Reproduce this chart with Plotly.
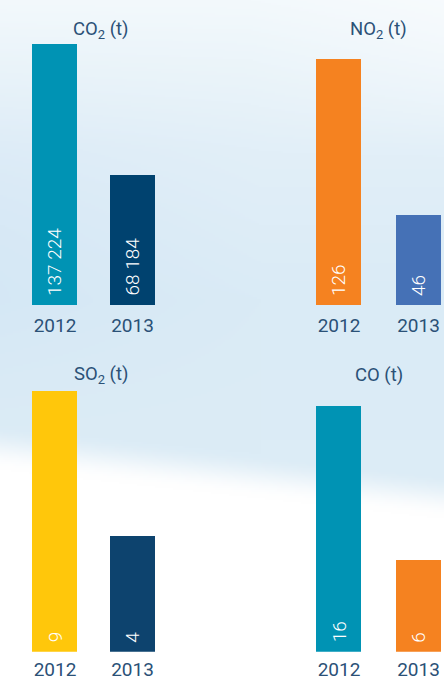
import base64
import struct
import zlib

import numpy as np
import plotly.graph_objects as go

# ---------------- data ----------------
years = ["2012", "2013"]
titles = ["CO<sub>2</sub> (t)", "NO<sub>2</sub> (t)", "SO<sub>2</sub> (t)", "CO (t)"]
co2_values = [137224, 68184]
no2_values = [126, 46]
so2_values = [9, 4]
co_values = [16, 6]
co2_colors = ["#0093b4", "#00426f"]
no2_colors = ["#f58220", "#4571b6"]
so2_colors = ["#ffc70b", "#0d436e"]
co_colors = ["#0093b4", "#f58220"]

W, H = 444, 681


# ---------------- sky background image ----------------
def make_background():
    h, w = 341, 222
    ys = np.linspace(0, H, h)[:, None]
    xs = np.linspace(0, W, w)[None, :]
    stops_y = [0, 60, 150, 300, 440]
    stops_c = np.array([[243, 249, 252], [236, 245, 250], [226, 239, 248],
                        [218, 235, 246], [220, 236, 246]], dtype=float)
    base = np.zeros((h, w, 3))
    for k in range(3):
        base[..., k] = np.interp(ys, stops_y, stops_c[:, k]) * np.ones_like(xs)
    left = np.clip(1 - xs / 260, 0, 1) * np.exp(-((ys - 230) / 140) ** 2)
    base -= left[..., None] * np.array([6, 4, 1])
    tr = np.clip((xs - 250) / 194, 0, 1) * np.clip(1 - ys / 160, 0, 1)
    base += tr[..., None] * (np.array([250, 252, 254]) - base) * 0.6
    yc = 447 + 0.11 * xs
    t = np.clip((ys - yc) / 45 + 0.5, 0, 1)
    t = t * t * (3 - 2 * t)
    white = np.array([255, 255, 255], dtype=float)
    img = base * (1 - t[..., None]) + white * t[..., None]
    img = np.clip(img, 0, 255).astype(np.uint8)
    raw = b"".join(b"\x00" + img[r].tobytes() for r in range(h))

    def chunk(tag, data):
        c = struct.pack(">I", len(data)) + tag + data
        return c + struct.pack(">I", zlib.crc32(tag + data) & 0xffffffff)

    png = b"\x89PNG\r\n\x1a\n"
    png += chunk(b"IHDR", struct.pack(">IIBBBBB", w, h, 8, 2, 0, 0, 0))
    png += chunk(b"IDAT", zlib.compress(raw, 9))
    png += chunk(b"IEND", b"")
    return "data:image/png;base64," + base64.b64encode(png).decode()


# ---------------- figure ----------------
panels = [
    (co2_values, co2_colors, titles[0]),
    (no2_values, no2_colors, titles[1]),
    (so2_values, so2_colors, titles[2]),
    (co_values, co_colors, titles[3]),
]

left_dom = [16.25 / W, 171.25 / W]
left_range = [-0.5, 1.5]
right_dom = [299.25 / W, 1.0]
right_range = [-0.5, -0.5 + (W - 299.25) / 79.5]
top_dom = [(H - 305) / H, (H - 44) / H]
bot_dom = [(H - 651.7) / H, (H - 391) / H]
scale = [1.0, 261 / 246, 1.0, 261 / 246]
title_pos = [(100.5, 30), (378.5, 30), (100.5, 375), (379, 375)]
standoff = [7, 7, 4, 4]

text_color = "#2b5177"
fig = go.Figure()
annotations = []
layout = {}

for i, (vals, cols, title) in enumerate(panels):
    n = i + 1
    xa = "x" if n == 1 else f"x{n}"
    ya = "y" if n == 1 else f"y{n}"
    is_left = i in (0, 2)
    fig.add_trace(go.Bar(
        x=years, y=vals, marker=dict(color=cols, line=dict(width=0)),
        width=0.58 if is_left else 0.56,
        xaxis=xa, yaxis=ya, hoverinfo="skip", showlegend=False,
    ))
    xkey = "xaxis" if n == 1 else f"xaxis{n}"
    ykey = "yaxis" if n == 1 else f"yaxis{n}"
    layout[xkey] = dict(
        domain=left_dom if is_left else right_dom,
        range=left_range if is_left else right_range,
        anchor=ya, type="category", showgrid=False, zeroline=False,
        showline=False, ticks="", ticklabelstandoff=standoff[i],
        tickfont=dict(family="Roboto", size=19, color=text_color),
        fixedrange=True,
    )
    layout[ykey] = dict(
        domain=top_dom if i < 2 else bot_dom, anchor=xa,
        range=[0, max(vals) * scale[i]], visible=False, fixedrange=True,
    )
    for j, v in enumerate(vals):
        annotations.append(dict(
            x=j, y=0, xref=xa, yref=ya, text=f"{v:,}".replace(",", " "),
            textangle=-90, xanchor="center", yanchor="bottom", yshift=7,
            showarrow=False,
            font=dict(family="Roboto", size=19, weight=300, color="white"),
        ))
    tx, ty = title_pos[i]
    annotations.append(dict(
        x=tx / W, y=1 - ty / H, xref="paper", yref="paper", text=title,
        xanchor="center", yanchor="middle", showarrow=False,
        font=dict(family="Roboto", size=18.5, color=text_color),
    ))

fig.update_layout(
    width=W, height=H, margin=dict(l=0, r=0, t=0, b=0, autoexpand=False),
    paper_bgcolor="white", plot_bgcolor="rgba(0,0,0,0)",
    annotations=annotations, bargap=0,
    images=[dict(source=make_background(), xref="paper", yref="paper",
                 x=0, y=1, sizex=1, sizey=1, xanchor="left", yanchor="top",
                 sizing="stretch", layer="below")],
    **layout,
)

fig.write_html("out.html", config={"displayModeBar": False},
               post_script="document.body.style.margin='0';")
